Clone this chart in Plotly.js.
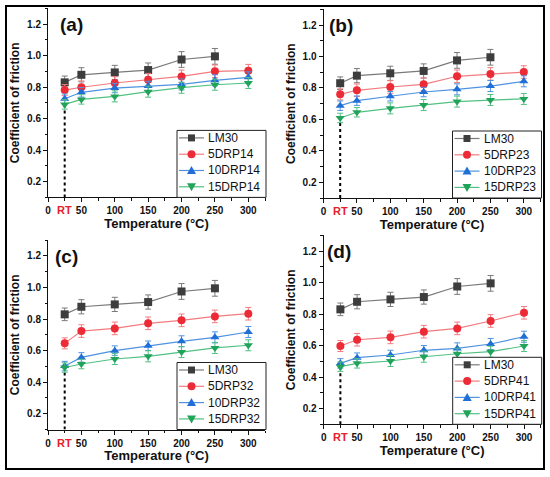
<!DOCTYPE html>
<html><head><meta charset="utf-8">
<script src="https://cdn.plot.ly/plotly-3.0.1.min.js"></script>
<style>html,body{margin:0;padding:0;background:#fff}#chart{width:550px;height:477px}</style>
</head><body><div id="chart"></div>
<script>
// ---------- data ----------
const temps = [25, 50, 100, 150, 200, 250, 300];
const lmTemps = [25, 50, 100, 150, 200, 250];
const lm30 = [0.830, 0.878, 0.893, 0.908, 0.975, 0.995];
const lm30Err = [0.040, 0.045, 0.045, 0.045, 0.050, 0.050];

const drp14_5  = [0.781, 0.799, 0.826, 0.847, 0.868, 0.900, 0.904];
const drp14_10 = [0.726, 0.767, 0.794, 0.807, 0.817, 0.843, 0.862];
const drp14_15 = [0.690, 0.722, 0.741, 0.771, 0.796, 0.815, 0.826];

const drp23_5  = [0.759, 0.785, 0.806, 0.823, 0.874, 0.889, 0.901];
const drp23_10 = [0.687, 0.719, 0.747, 0.774, 0.791, 0.812, 0.842];
const drp23_15 = [0.609, 0.645, 0.670, 0.691, 0.713, 0.723, 0.730];

const drp32_5  = [0.646, 0.724, 0.741, 0.773, 0.792, 0.817, 0.834];
const drp32_10 = [0.502, 0.557, 0.600, 0.631, 0.659, 0.684, 0.718];
const drp32_15 = [0.493, 0.515, 0.547, 0.564, 0.591, 0.617, 0.634];

const drp41_5  = [0.597, 0.637, 0.652, 0.688, 0.709, 0.756, 0.808];
const drp41_10 = [0.487, 0.523, 0.540, 0.570, 0.582, 0.610, 0.656];
const drp41_15 = [0.466, 0.487, 0.502, 0.529, 0.548, 0.561, 0.597];

const err5  = [0.035, 0.040, 0.040, 0.040, 0.040, 0.040, 0.040];
const err10 = [0.030, 0.030, 0.030, 0.030, 0.035, 0.035, 0.035];
const err15 = [0.030, 0.030, 0.035, 0.035, 0.035, 0.035, 0.035];

const panelLabels = ['(a)', '(b)', '(c)', '(d)'];
const seriesLM = 'LM30';
const series5  = ['5DRP14', '5DRP23', '5DRP32', '5DRP41'];
const series10 = ['10DRP14', '10DRP23', '10DRP32', '10DRP41'];
const series15 = ['15DRP14', '15DRP23', '15DRP32', '15DRP41'];
const values5  = [drp14_5, drp23_5, drp32_5, drp41_5];
const values10 = [drp14_10, drp23_10, drp32_10, drp41_10];
const values15 = [drp14_15, drp23_15, drp32_15, drp41_15];

const xTickVals = [0, 50, 100, 150, 200, 250, 300];
const xTickText = ['0', '50', '100', '150', '200', '250', '300'];
const yTickVals = [0.2, 0.4, 0.6, 0.8, 1.0, 1.2];
const yTickText = ['0.2', '0.4', '0.6', '0.8', '1.0', '1.2'];
const rtTemp = 25;
const rtLabel = 'RT';
const xTitle = 'Temperature (°C)';
const yTitle = 'Coefficient of friction';

// ---------- layout helpers ----------
const W = 550, H = 477;
const FONT = 'Arial, "Liberation Sans", sans-serif';
// pixel boxes: [left, right, bottom, top]
const boxes = [
  [48, 265, 197.4, 8.3],
  [323.5, 540.5, 198, 9.3],
  [48, 265, 429.5, 240.2],
  [323.7, 540.7, 424.3, 235.3]
];
const labelX = [0.046, 0.016, 0.023, 0.006];
const styles = {
  lm: {marker: '#3d3d3d', line: '#7a7a7a', symbol: 'square'},
  s5: {marker: '#ec2b36', line: '#f27b7f', symbol: 'circle'},
  s10: {marker: '#1f6fd6', line: '#4f92e0', symbol: 'triangle-up'},
  s15: {marker: '#22a35a', line: '#52c083', symbol: 'triangle-down'}
};
const px = x => x / W;
const py = y => (H - y) / H;

const data = [];
const layout = {
  width: W, height: H,
  margin: {l: 0, r: 0, t: 0, b: 0},
  paper_bgcolor: '#fff', plot_bgcolor: 'rgba(0,0,0,0)',
  font: {family: FONT, color: '#111'},
  showlegend: false,
  shapes: [], annotations: []
};

function trace(x, y, err, name, st, idx) {
  const s = idx === 0 ? '' : String(idx + 1);
  return {
    type: 'scatter', mode: 'lines+markers',
    x: x, y: y, name: name,
    xaxis: 'x' + s, yaxis: 'y' + s,
    line: {color: st.line, width: 1.2},
    marker: {color: st.marker, symbol: st.symbol, size: 8, line: {width: 0}},
    error_y: {type: 'data', array: err, visible: true, color: st.line, thickness: 1, width: 3},
    cliponaxis: false
  };
}

function glyph(st, cx, cy) {
  const base = {xref: 'paper', yref: 'paper', xsizemode: 'pixel', ysizemode: 'pixel',
    xanchor: px(cx), yanchor: py(cy), line: {width: 0}, fillcolor: st.marker, layer: 'above'};
  if (st.symbol === 'square') return Object.assign(base, {type: 'rect', x0: -3.5, x1: 3.5, y0: -3.5, y1: 3.5});
  if (st.symbol === 'circle') return Object.assign(base, {type: 'circle', x0: -4, x1: 4, y0: -4, y1: 4});
  if (st.symbol === 'triangle-up') return Object.assign(base, {type: 'path', path: 'M-4.5,-3.5 L4.5,-3.5 L0,4.5 Z'});
  return Object.assign(base, {type: 'path', path: 'M-4.5,3.5 L4.5,3.5 L0,-4.5 Z'});
}

function drawLegend(b, names, sts) {
  const right = b[1] + 1, bottom = b[2];
  const left = right - 89, top = bottom - 67;
  layout.shapes.push({type: 'rect', xref: 'paper', yref: 'paper',
    x0: px(left), x1: px(right), y0: py(bottom), y1: py(top),
    line: {color: '#222', width: 1}, fillcolor: '#fff', layer: 'above'});
  names.forEach((nm, k) => {
    const cy = top + 7.5 + 16.3 * k;
    const st = sts[k];
    layout.shapes.push({type: 'line', xref: 'paper', yref: 'paper',
      x0: px(left + 2), x1: px(left + 27), y0: py(cy), y1: py(cy),
      line: {color: st.line, width: 1.2}, layer: 'above'});
    layout.shapes.push(glyph(st, left + 14.5, cy));
    layout.annotations.push({xref: 'paper', yref: 'paper', x: px(left + 29), y: py(cy),
      xanchor: 'left', yanchor: 'middle', showarrow: false, text: nm,
      font: {size: 12, family: FONT, color: '#111'}});
  });
}

boxes.forEach((b, i) => {
  const s = i === 0 ? '' : String(i + 1);
  const xd = [b[0] / W, b[1] / W];
  const yd = [(H - b[2]) / H, (H - b[3]) / H];
  data.push(trace(lmTemps, lm30, lm30Err, seriesLM, styles.lm, i));
  data.push(trace(temps, values5[i], err5, series5[i], styles.s5, i));
  data.push(trace(temps, values10[i], err10, series10[i], styles.s10, i));
  data.push(trace(temps, values15[i], err15, series15[i], styles.s15, i));

  layout['xaxis' + s] = {
    domain: xd, anchor: 'y' + s, range: [0, 325],
    showline: true, linecolor: '#111', linewidth: 1, mirror: false,
    showgrid: false, zeroline: false,
    tickmode: 'array', tickvals: xTickVals, ticktext: xTickText,
    ticks: 'outside', ticklen: 4, tickwidth: 1, tickcolor: '#111',
    minor: {dtick: 25, tick0: 0, ticks: 'outside', ticklen: 2.5, tickcolor: '#111', showgrid: false},
    tickfont: {size: 10, family: FONT, weight: 'bold', color: '#111'},
    title: {text: '<b>' + xTitle + '</b>', font: {size: 13, family: FONT, color: '#111'}, standoff: 2}
  };
  layout['yaxis' + s] = {
    domain: yd, anchor: 'x' + s, range: [0.1, 1.3],
    showline: true, linecolor: '#111', linewidth: 1, mirror: false,
    showgrid: false, zeroline: false,
    tickmode: 'array', tickvals: yTickVals, ticktext: yTickText,
    ticks: 'outside', ticklen: 4, tickwidth: 1, tickcolor: '#111',
    minor: {dtick: 0.1, tick0: 0, ticks: 'outside', ticklen: 2.5, tickcolor: '#111', showgrid: false},
    tickfont: {size: 10, family: FONT, weight: 'bold', color: '#111'},
    title: {text: '<b>' + yTitle + '</b>', font: {size: 12, family: FONT, color: '#111'}, standoff: 4}
  };
  // dotted RT line
  layout.shapes.push({
    type: 'line', xref: 'x' + s, yref: 'y' + s,
    x0: rtTemp, x1: rtTemp, y0: 0.1, y1: values15[i][0],
    line: {color: '#000', width: 2, dash: 'dot'}, layer: 'below'
  });
  // RT label
  layout.annotations.push({
    xref: 'x' + s, yref: 'y' + s + ' domain', x: rtTemp, y: 0,
    yanchor: 'top', xanchor: 'center', yshift: -5, showarrow: false,
    text: '<b>' + rtLabel + '</b>', font: {size: 11, family: FONT, color: '#e8202a'}
  });
  // panel label
  layout.annotations.push({
    xref: 'x' + s + ' domain', yref: 'y' + s + ' domain', x: labelX[i], y: 0.915,
    xanchor: 'left', yanchor: 'middle', showarrow: false,
    text: '<b>' + panelLabels[i] + '</b>', font: {size: 19, family: FONT, color: '#111'}
  });
});

boxes.forEach((b, i) => {
  drawLegend(b, [seriesLM, series5[i], series10[i], series15[i]],
    [styles.lm, styles.s5, styles.s10, styles.s15]);
});

// outer frame
layout.shapes.push({
  type: 'rect', xref: 'paper', yref: 'paper',
  x0: 6 / W, x1: 544 / W, y0: 8 / H, y1: 471 / H,
  line: {color: '#000', width: 2}, fillcolor: 'rgba(0,0,0,0)', layer: 'above'
});

Plotly.newPlot('chart', data, layout, {displayModeBar: false, staticPlot: true});
</script>
</body></html>
